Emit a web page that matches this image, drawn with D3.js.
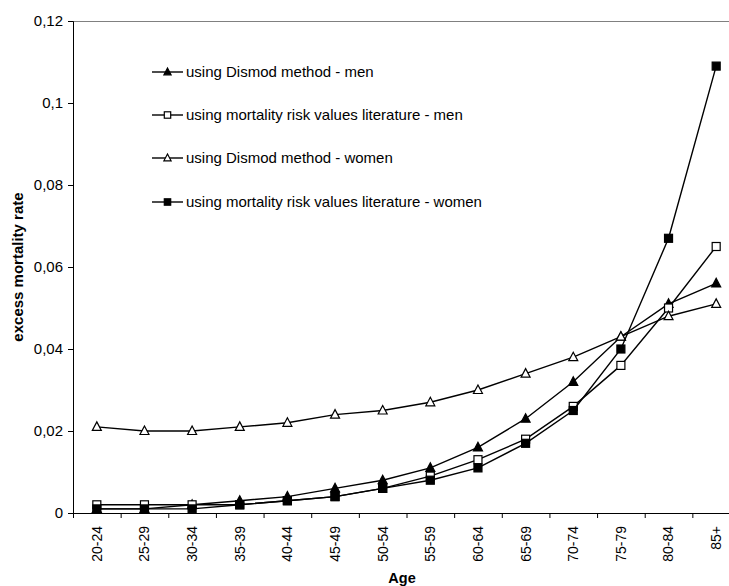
<!DOCTYPE html>
<html><head><meta charset="utf-8">
<script src="https://cdn.jsdelivr.net/npm/d3@7"></script>
<style>body{margin:0;background:#fff}svg{display:block}</style>
</head><body>
<script>
const ageGroups = ["20-24","25-29","30-34","35-39","40-44","45-49","50-54","55-59","60-64","65-69","70-74","75-79","80-84","85+"];
const dismodMen =      [0.001,0.001,0.002,0.003,0.004,0.006,0.008,0.011,0.016,0.023,0.032,0.043,0.051,0.056];
const literatureMen =  [0.002,0.002,0.002,0.002,0.003,0.004,0.006,0.009,0.013,0.018,0.026,0.036,0.050,0.065];
const dismodWomen =    [0.021,0.020,0.020,0.021,0.022,0.024,0.025,0.027,0.030,0.034,0.038,0.043,0.048,0.051];
const literatureWomen =[0.001,0.001,0.001,0.002,0.003,0.004,0.006,0.008,0.011,0.017,0.025,0.040,0.067,0.109];
const yTicks = [0,0.02,0.04,0.06,0.08,0.1,0.12];
const seriesNames = ["using Dismod method - men","using mortality risk values literature - men","using Dismod method - women","using mortality risk values literature - women"];
const markerTypes = ["triFilled","sqOpen","triOpen","sqFilled"];
const seriesData = [dismodMen, literatureMen, dismodWomen, literatureWomen];

(function(){
const W=729,H=586;
const pLeft=73, pRight=740, pTop=21, pBottom=513;
const svg=d3.select("body").append("svg").attr("width",W).attr("height",H);
const x=d3.scaleBand().domain(ageGroups).range([pLeft,pRight]);
const y=d3.scaleLinear().domain([0,0.12]).range([pBottom,pTop]);
const font="Arial, 'Liberation Sans', sans-serif";

svg.append("line").attr("x1",pLeft).attr("x2",W).attr("y1",y(0.12)+0.5).attr("y2",y(0.12)+0.5).attr("stroke","#808080").attr("stroke-width",1);

const yAxis=svg.append("g").attr("transform",`translate(${pLeft},0)`)
 .call(d3.axisLeft(y).tickValues(yTicks).tickSize(5).tickPadding(5).tickFormat(d=>d3.format("")(d).replace(".",",")));
yAxis.select(".domain").attr("stroke","#000");
yAxis.selectAll("text").attr("font-family",font).attr("font-size",15).attr("fill","#000");

const xAxis=svg.append("g").attr("transform",`translate(0,${pBottom})`)
 .call(d3.axisBottom(x).tickSize(0).tickPadding(0));
xAxis.select(".domain").attr("stroke","#000").attr("d",`M${pLeft},0.5H${pRight}`);
xAxis.selectAll(".tick text").attr("font-family",font).attr("font-size",14).attr("fill","#000")
 .attr("transform","rotate(-90)").attr("text-anchor","end").attr("x",-13).attr("y",0).attr("dy","0.35em");
const bounds=ageGroups.map(d=>x(d)).concat([pRight]);
svg.append("g").selectAll("line").data(bounds).join("line")
 .attr("x1",d=>d+0.5).attr("x2",d=>d+0.5).attr("y1",pBottom).attr("y2",pBottom+5).attr("stroke","#000");

svg.append("text").attr("x",402).attr("y",583).attr("text-anchor","middle").attr("font-family",font).attr("font-weight","bold").attr("font-size",14.5).text("Age");
svg.append("text").attr("transform","translate(23,267) rotate(-90)").attr("text-anchor","middle").attr("font-family",font).attr("font-weight","bold").attr("font-size",15).text("excess mortality rate");

function drawMarker(g,type,cx,cy,s){
  if(type.startsWith("tri")){
    g.append("path").attr("d",`M${cx},${cy-s}L${cx+s*0.9},${cy+s*0.7}L${cx-s*0.9},${cy+s*0.7}Z`)
     .attr("fill",type==="triFilled"?"#000":"#fff").attr("stroke","#000").attr("stroke-width",1.2);
  } else {
    const h=s*0.8;
    g.append("rect").attr("x",cx-h).attr("y",cy-h).attr("width",2*h).attr("height",2*h)
     .attr("fill",type==="sqFilled"?"#000":"#fff").attr("stroke","#000").attr("stroke-width",1.2);
  }
}

const line=d3.line().x((d,i)=>x(ageGroups[i])+x.bandwidth()/2).y(d=>y(d));
seriesData.forEach((vals,si)=>{
  const g=svg.append("g");
  g.append("path").attr("d",line(vals)).attr("fill","none").attr("stroke","#000").attr("stroke-width",1.4);
  vals.forEach((v,i)=>drawMarker(g,markerTypes[si],x(ageGroups[i])+x.bandwidth()/2,y(v),5));
});

const legY=[72,115,158,202];
seriesNames.forEach((n,i)=>{
  const g=svg.append("g");
  g.append("line").attr("x1",152).attr("x2",183).attr("y1",legY[i]).attr("y2",legY[i]).attr("stroke","#000").attr("stroke-width",1.4);
  drawMarker(g,markerTypes[i],167.5,legY[i],4);
  g.append("text").attr("x",186).attr("y",legY[i]).attr("dy","0.35em").attr("font-family",font).attr("font-size",15).text(n);
});
})();
</script>
</body></html>
